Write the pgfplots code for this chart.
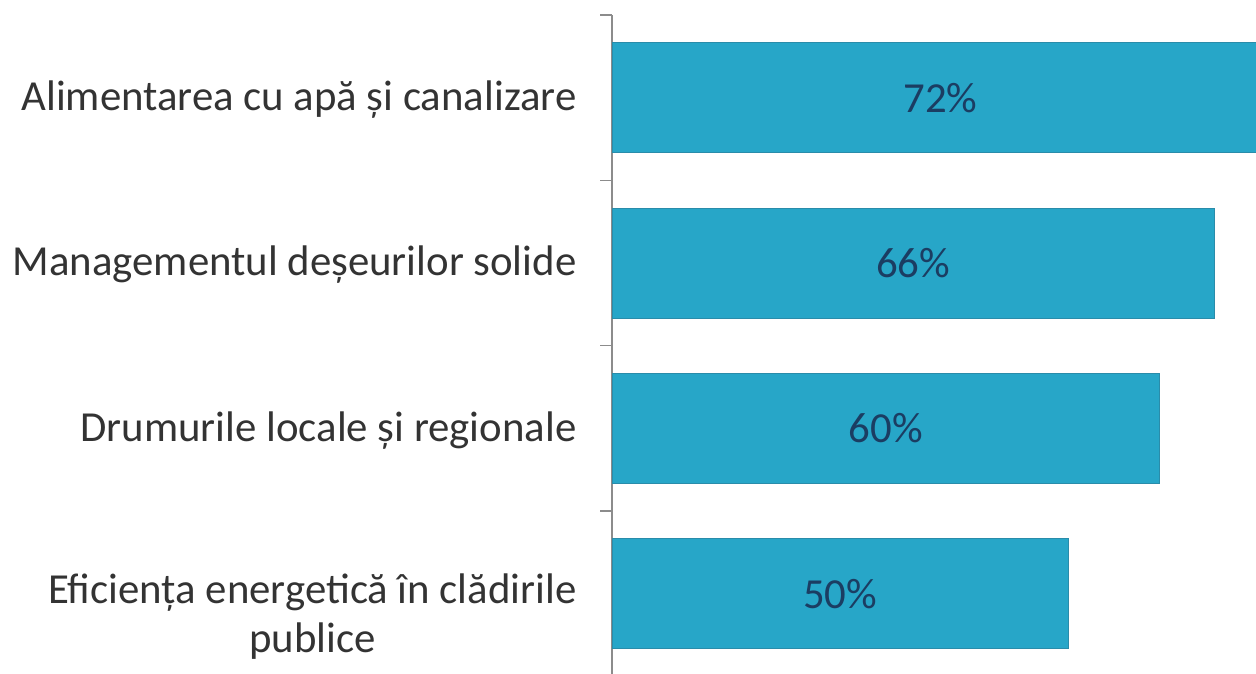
\documentclass[border=0pt]{standalone}
\usepackage{pgfplots}
\usepackage{pgfplotstable}
\pgfplotsset{compat=1.18}
\usepackage{fontspec}
\setmainfont{Carlito}
\definecolor{barc}{HTML}{27A6C8}
\definecolor{bard}{HTML}{2A8CAA}
\definecolor{txt}{HTML}{333333}
\definecolor{valc}{HTML}{1B3D62}
\definecolor{axc}{HTML}{8C8C8C}
\pgfplotstableread{
y v
0 50
1 60
2 66
3 72
}\datatable
\begin{document}
\begin{tikzpicture}[font=\fontsize{42.8bp}{50bp}\selectfont]
\path[use as bounding box] (0,0) rectangle (1256bp,674bp);
\begin{axis}[
 at={(612bp,0bp)}, anchor=south west,
 scale only axis, width=644bp, height=659bp,
 xmin=0, xmax=70.58, ymin=-0.485, ymax=3.5,
 hide x axis,
 axis y line*=left,
 y axis line style={draw=axc, line width=1.3bp, -},
 ytick={0,1,2,3},
 yticklabels={{Eficiența energetică în clădirile\\publice},{Drumurile locale și regionale},{Managementul deșeurilor solide},{Alimentarea cu apă și canalizare}},
 yticklabel style={align=center, font=\fontsize{42.8bp}{49bp}\selectfont, text=txt, xshift=-32bp, yshift={ifthenelse(\ticknum==0,-23,-2)}},
 major tick length=0pt,
 minor ytick={0.5,1.5,2.5,3.5},
 minor tick length=12bp,
 tick align=outside,
 minor tick style={draw=axc, line width=1.3bp},
 clip=true,
]
\addplot[xbar, bar width=110bp, fill=barc, draw=bard, line width=1bp] table[x=v,y=y]{\datatable};
\addplot[draw=none, mark=none, point meta=\thisrow{v},
 nodes near coords={\pgfmathprintnumber[assume math mode=true]{\pgfplotspointmeta}\%},
 nodes near coords align=center,
 every node near coord/.append style={text=valc, font=\fontsize{42.8bp}{50bp}\selectfont}]
 table[x expr=\thisrow{v}/2, y=y]{\datatable};
\end{axis}
\end{tikzpicture}
\end{document}
